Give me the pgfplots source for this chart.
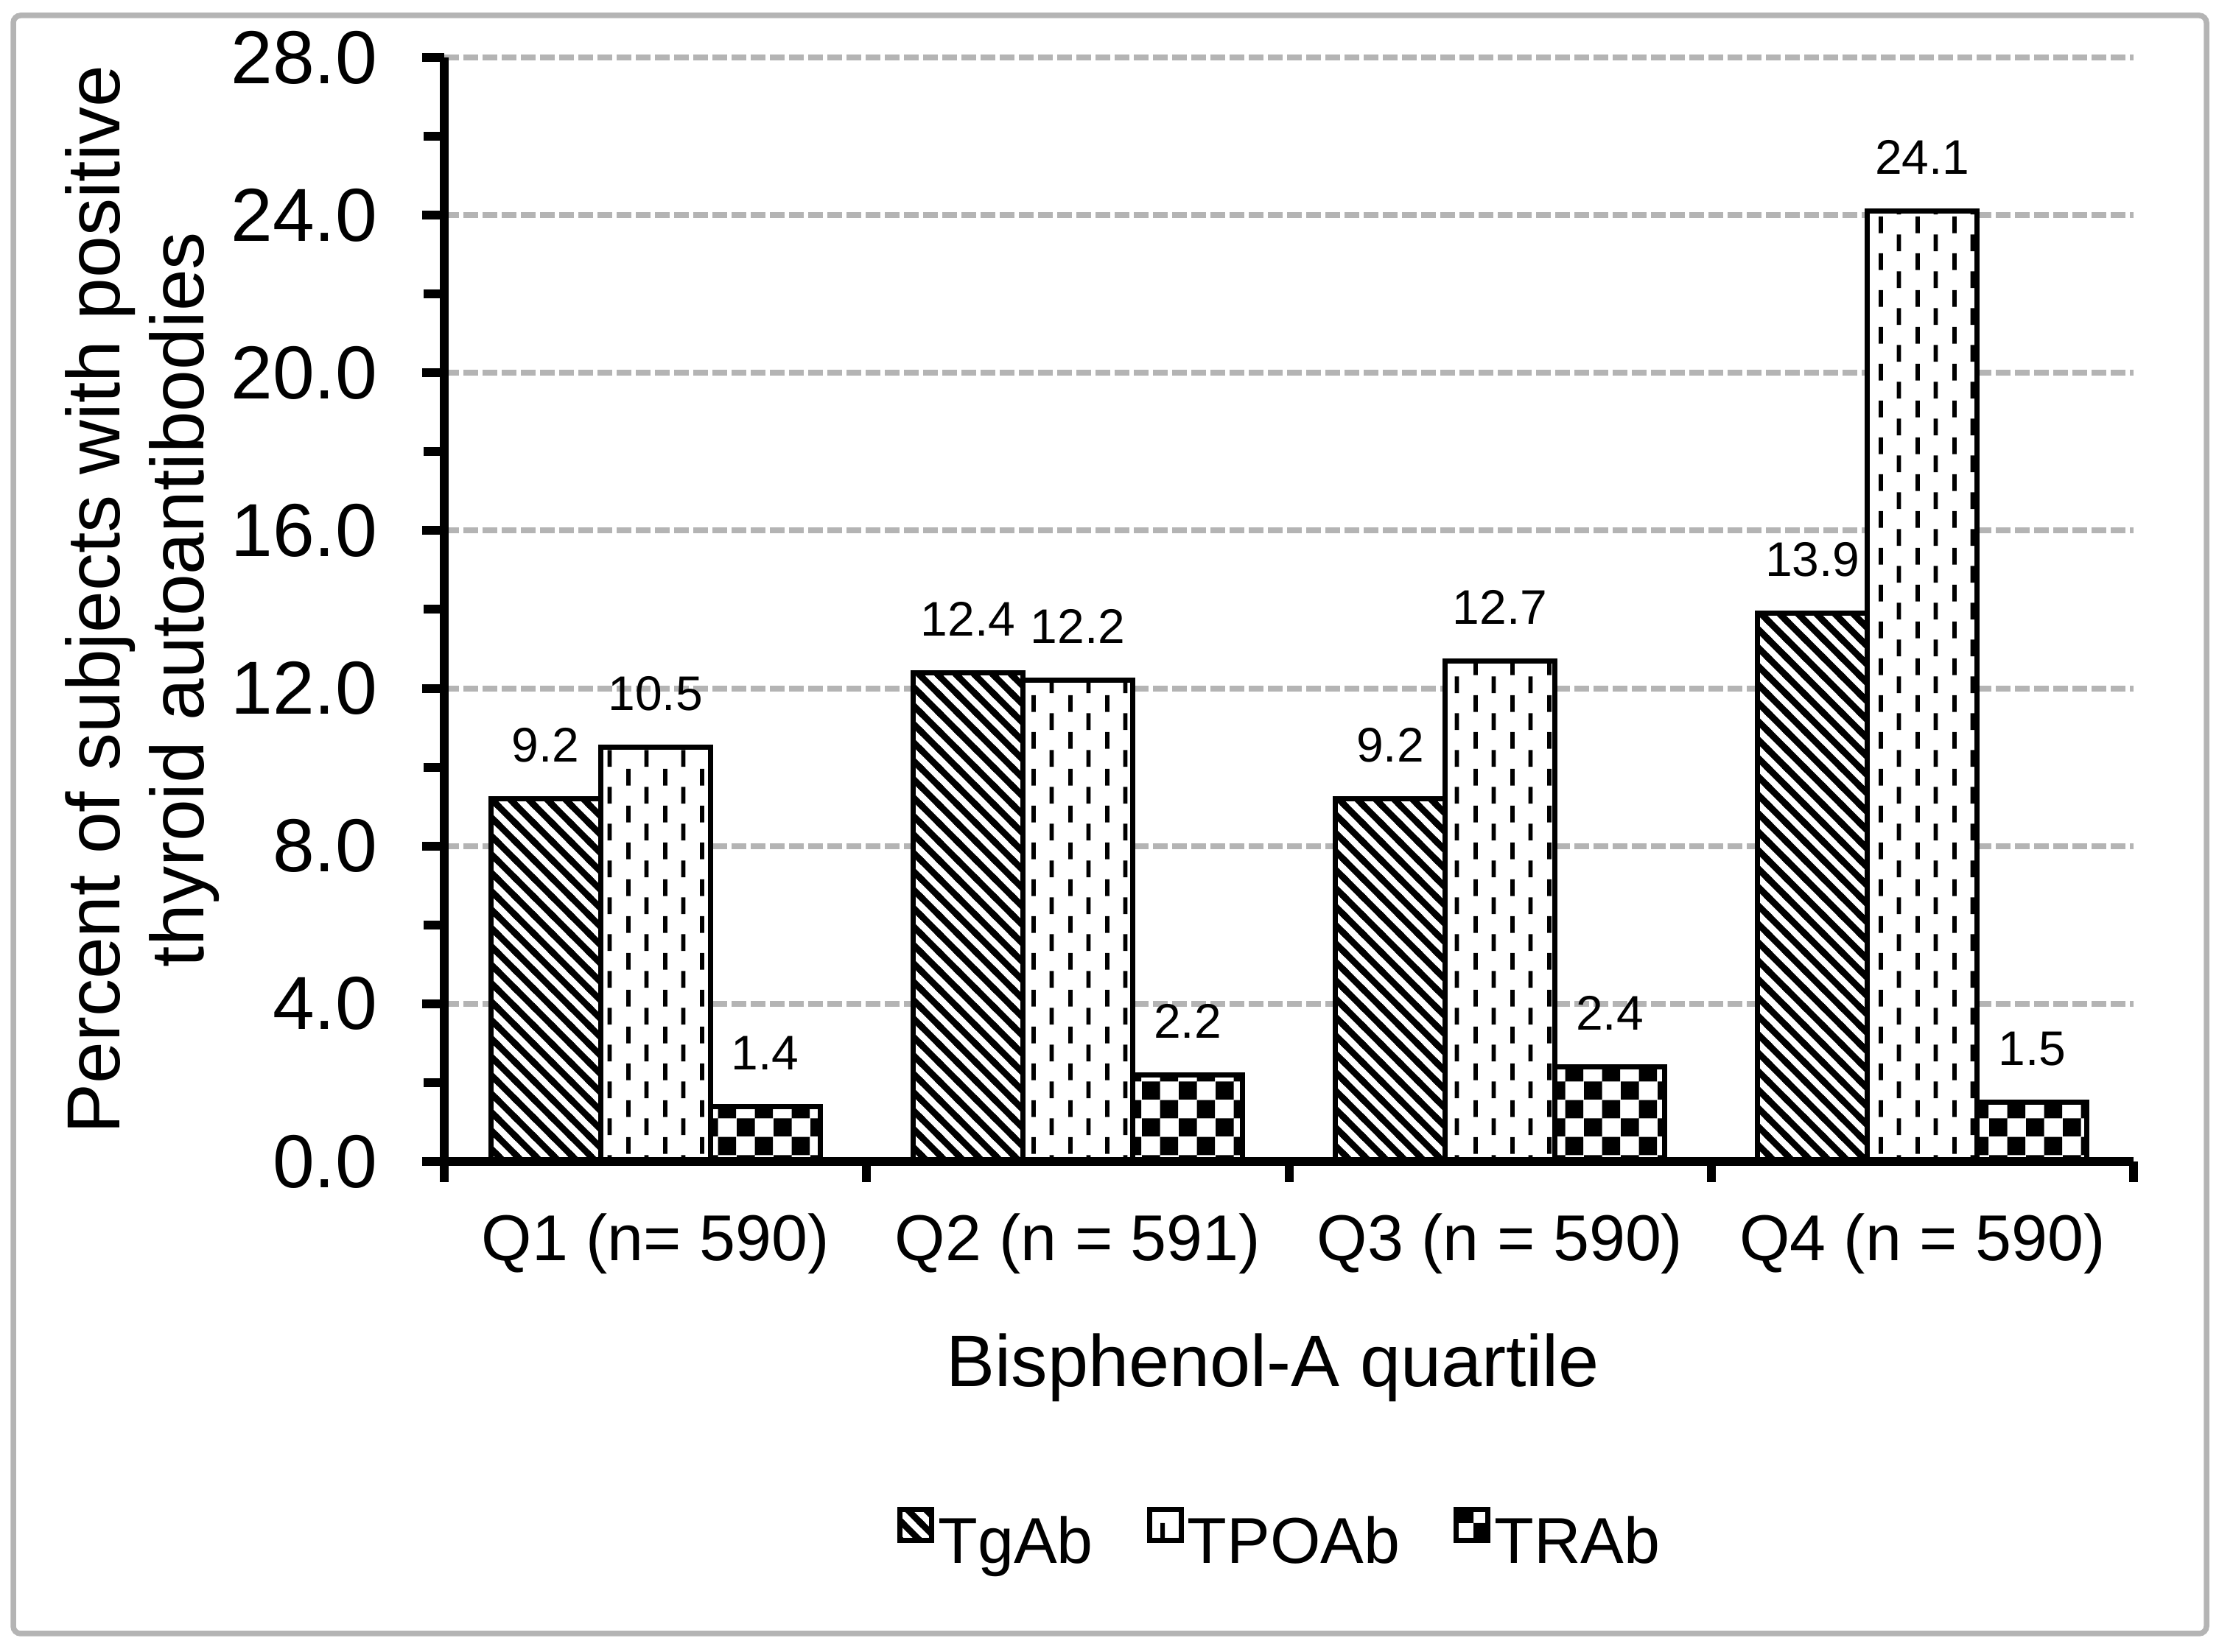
\documentclass[border=0pt]{standalone}
\usepackage{fontspec}
\setmainfont{Liberation Sans}
\usepackage{pgfplots}
\pgfplotsset{compat=1.18}
\usetikzlibrary{patterns}

\pgfdeclarepatternformonly{tgab}{\pgfpoint{-1bp}{-1bp}}{\pgfpoint{3.5bp}{3.5bp}}{\pgfpoint{2.5bp}{2.5bp}}{%
  \pgfsetlinewidth{0.88bp}%
  \pgfpathmoveto{\pgfpoint{-0.3bp}{2.8bp}}%
  \pgfpathlineto{\pgfpoint{2.8bp}{-0.3bp}}%
  \pgfusepath{stroke}}
\pgfdeclarepatternformonly{tpoab}{\pgfpointorigin}{\pgfpoint{5bp}{5bp}}{\pgfpoint{5bp}{5bp}}{%
  \pgfpathrectangle{\pgfpoint{0bp}{2.7bp}}{\pgfpoint{0.6bp}{2.3bp}}%
  \pgfpathrectangle{\pgfpoint{2.5bp}{0.2bp}}{\pgfpoint{0.6bp}{2.3bp}}%
  \pgfusepath{fill}}
\pgfdeclarepatternformonly{trab}{\pgfpointorigin}{\pgfpoint{5bp}{5bp}}{\pgfpoint{5bp}{5bp}}{%
  \pgfpathrectangle{\pgfpointorigin}{\pgfpoint{2.5bp}{2.5bp}}%
  \pgfpathrectangle{\pgfpoint{2.5bp}{2.5bp}}{\pgfpoint{2.5bp}{2.5bp}}%
  \pgfusepath{fill}}

\definecolor{gridgray}{RGB}{180,180,180}

\pgfplotsset{
  layers/barsabovegrid/.define layer set={axis background,axis grid,main,axis ticks,axis lines,axis tick labels,axis descriptions,axis foreground}{/pgfplots/layers/standard},
}

\begin{document}
\begin{tikzpicture}
\draw[gridgray, line width=0.75bp, rounded corners=1bp] (1.8bp,2.5bp) rectangle (299.5bp,222.2bp);
\begin{axis}[
  set layers=barsabovegrid,
  at={(60.3bp,66.6bp)}, anchor=south west,
  scale only axis, width=229.3bp, height=149.9bp,
  xmin=0.5, xmax=4.5, ymin=0, ymax=28,
  enlargelimits=false,
  clip=false,
  axis lines=left,
  axis line style={-, black, line width=1.2bp},
  ybar=0pt, bar width=14.9bp,
  xtick={1,2,3,4},
  xticklabels={Q1 (n= 590), Q2 (n = 591), Q3 (n = 590), Q4 (n = 590)},
  minor xtick={0.5,1.5,2.5,3.5,4.5},
  ytick={0,4,...,28},
  minor ytick={2,6,...,26},
  tick align=outside,
  major tick length=3bp, minor tick length=2.8bp,
  tick style={black, line width=1.2bp},
  major x tick style={draw=none},
  ymajorgrids,
  grid style={gridgray, line width=0.8bp, dash pattern=on 2bp off 0.6bp},
  /pgf/number format/assume math mode=true,
  yticklabel style={font=\fontsize{10.2bp}{12bp}\selectfont, anchor=east, inner sep=0pt, xshift=-5.9bp,
     /pgf/number format/fixed, /pgf/number format/fixed zerofill, /pgf/number format/precision=1},
  xticklabel style={font=\fontsize{8.8bp}{10bp}\selectfont, anchor=base, inner sep=0pt, yshift=-10.4bp},
  xlabel={Bisphenol-A quartile},
  xlabel style={font=\fontsize{9.9bp}{12bp}\selectfont, at={(rel axis cs:0.4906,-0.2035)}, anchor=base, inner sep=0pt},
  ylabel={Percent of subjects with positive\\thyroid autoantibodies},
  ylabel style={font=\fontsize{10.2bp}{11.4bp}\selectfont, align=center, at={(rel axis cs:-0.1788,0.509)}, anchor=center, inner sep=0pt},
  nodes near coords,
  nodes near coords style={font=\fontsize{6.6bp}{8bp}\selectfont, anchor=base, inner sep=0pt, yshift=5bp,
     /pgf/number format/fixed, /pgf/number format/fixed zerofill, /pgf/number format/precision=1},
  legend columns=3,
  legend style={draw=none, fill=none, at={(0.2684,-0.3436)}, anchor=west, inner sep=0pt, outer sep=0pt,
     font=\fontsize{8.8bp}{10bp}\selectfont, nodes={inner sep=0pt},
     /tikz/every odd column/.style={column sep=0.5bp},
     /tikz/every even column/.style={column sep=7.3bp}},
  every axis plot post/.append style={
     legend image code/.code={\draw[##1, line width=0.7bp] (0.35bp,0.65bp) rectangle (4.65bp,4.85bp);}},
]
\addplot[draw=black, line width=0.7bp, fill=white, postaction={pattern=tgab}]
  coordinates {(1,9.2) (2,12.4) (3,9.2) (4,13.9)};
\addplot[draw=black, line width=0.7bp, fill=white, postaction={pattern=tpoab}]
  coordinates {(1,10.5) (2,12.2) (3,12.7) (4,24.1)};
\addplot[draw=black, line width=0.7bp, fill=white, postaction={pattern=trab}]
  coordinates {(1,1.4) (2,2.2) (3,2.4) (4,1.5)};
\legend{TgAb, TPOAb, TRAb}
\end{axis}
\pgfresetboundingbox
\path[use as bounding box] (0,0) rectangle (301.2bp,224.3bp);
\end{tikzpicture}
\end{document}
